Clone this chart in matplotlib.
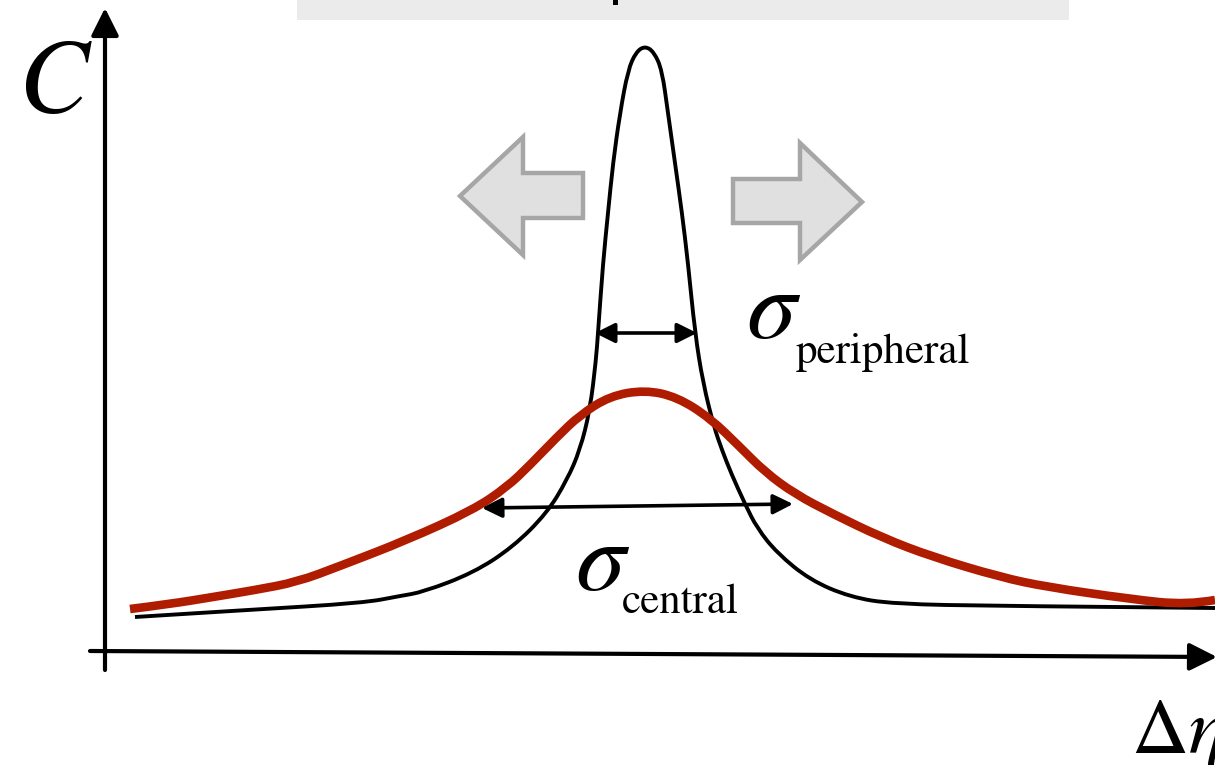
import numpy as np
import matplotlib
matplotlib.use("Agg")
import matplotlib.pyplot as plt
from matplotlib.patches import Polygon, Rectangle, PathPatch
from matplotlib.path import Path

plt.rcParams["mathtext.fontset"] = "stix"

# schematic correlation widths: narrow (peripheral) vs broad (central) peak
periph_deta = [-5.10, -3.98, -2.82, -2.45, -2.22, -1.72, -1.32, -0.98, -0.78,
               -0.65, -0.55, -0.49, -0.47, -0.42, -0.37, -0.32, -0.25, -0.17,
               -0.09, 0.00, 0.09, 0.17, 0.23, 0.30, 0.37, 0.43, 0.50, 0.58,
               0.69, 0.77, 0.86, 1.00, 1.12, 1.32, 1.65, 2.05, 2.48, 3.55, 5.70]
periph_C = [0.35, 0.42, 0.49, 0.56, 0.60, 0.79, 1.05, 1.39, 1.72,
            2.02, 2.42, 2.92, 3.19, 3.89, 4.39, 4.89, 5.39, 5.82,
            6.00, 6.06, 6.00, 5.82, 5.39, 4.89, 4.39, 3.89, 3.19, 2.69,
            2.25, 2.02, 1.79, 1.48, 1.24, 0.99, 0.72, 0.55, 0.48, 0.46, 0.44]

central_deta = [-5.15, -4.75, -4.32, -3.90, -3.48, -3.05, -2.38, -1.72, -1.38,
                -1.15, -0.88, -0.65, -0.35, 0.00, 0.32, 0.65, 0.95, 1.20,
                1.50, 1.88, 2.38, 2.88, 3.55, 4.02, 4.85, 5.42, 5.70]
central_C = [0.43, 0.48, 0.55, 0.62, 0.70, 0.86, 1.12, 1.42, 1.65,
             1.87, 2.15, 2.37, 2.56, 2.62, 2.55, 2.34, 2.05, 1.80,
             1.58, 1.38, 1.14, 0.95, 0.75, 0.65, 0.53, 0.47, 0.52]

# width markers (arrow ends) for each peak
sigma_periph = ([-0.50, 0.52], [3.19, 3.19])
sigma_central = ([-1.63, 1.48], [1.44, 1.48])

RED = "#B01C00"
ARROW_FACE = "#E0E0E0"
ARROW_EDGE = "#A6A6A6"


def smooth_path(xs, ys):
    """Quadratic B-spline path using the points as control points."""
    pts = np.column_stack([xs, ys])
    verts = [pts[0]]
    codes = [Path.MOVETO]
    for i in range(1, len(pts) - 1):
        end = pts[i + 1] if i == len(pts) - 2 else (pts[i] + pts[i + 1]) / 2
        verts += [pts[i], end]
        codes += [Path.CURVE3, Path.CURVE3]
    return Path(verts, codes)


fig = plt.figure(figsize=(12.15, 7.65), dpi=100)
ax = fig.add_axes([0, 0, 1, 1])
ax.set_xlim(-6.45, 5.70)
ax.set_ylim(-1.13, 6.52)
ax.axis("off")

# grey title banner (cut at the top)
ax.add_patch(Rectangle((-3.48, 6.32), 7.72, 0.4, color="#EBEBEB", lw=0, zorder=0))
ax.add_patch(Rectangle((-0.32, 6.47), 0.05, 0.1, color="black", lw=0, zorder=1))

# coordinate axes with arrow heads
ax.annotate("", xy=(-5.40, 6.44), xytext=(-5.40, -0.18),
            arrowprops=dict(arrowstyle="-|>", lw=3.0, color="black",
                            mutation_scale=42, shrinkA=0, shrinkB=0),
            annotation_clip=False)
ax.annotate("", xy=(5.72, -0.05), xytext=(-5.55, 0.01),
            arrowprops=dict(arrowstyle="-|>", lw=3.0, color="black",
                            mutation_scale=42, shrinkA=0, shrinkB=0),
            annotation_clip=False)

ax.add_patch(PathPatch(smooth_path(periph_deta, periph_C), fc="none",
                       ec="black", lw=2.8, zorder=3))
ax.add_patch(PathPatch(smooth_path(central_deta, central_C), fc="none",
                       ec=RED, lw=6.2, capstyle="butt", zorder=4))

# grey "broadening" arrows
left_arrow = [(-1.85, 4.56), (-1.22, 5.15), (-1.22, 4.79), (-0.62, 4.79),
              (-0.62, 4.34), (-1.22, 4.34), (-1.22, 3.97)]
right_arrow = [(2.17, 4.50), (1.55, 5.09), (1.55, 4.73), (0.88, 4.73),
               (0.88, 4.29), (1.55, 4.29), (1.55, 3.92)]
for pts in (left_arrow, right_arrow):
    ax.add_patch(Polygon(pts, closed=True, fc=ARROW_FACE, ec=ARROW_EDGE,
                         lw=3.2, joinstyle="miter", zorder=2))

# width arrows
for xs, ys in (sigma_periph, sigma_central):
    ax.annotate("", xy=(xs[1], ys[1]), xytext=(xs[0], ys[0]),
                arrowprops=dict(arrowstyle="<|-|>", lw=2.6, color="black",
                                mutation_scale=30, shrinkA=0, shrinkB=0),
                zorder=5)

# labels
ax.text(-6.27, 5.40, r"$C$", fontsize=76, ha="left", va="baseline")
ax.text(4.86, -1.01, r"$\Delta\eta$", fontsize=57, ha="left", va="baseline")
ax.text(1.01, 3.14, r"$\sigma$", fontsize=72, ha="left", va="baseline")
ax.text(1.51, 2.89, "peripheral", family="STIXGeneral", fontsize=31,
        ha="left", va="baseline")
ax.text(-0.70, 0.62, r"$\sigma$", fontsize=72, ha="left", va="baseline")
ax.text(-0.23, 0.39, "central", family="STIXGeneral", fontsize=31,
        ha="left", va="baseline")

fig.savefig("out.png", dpi=100)
